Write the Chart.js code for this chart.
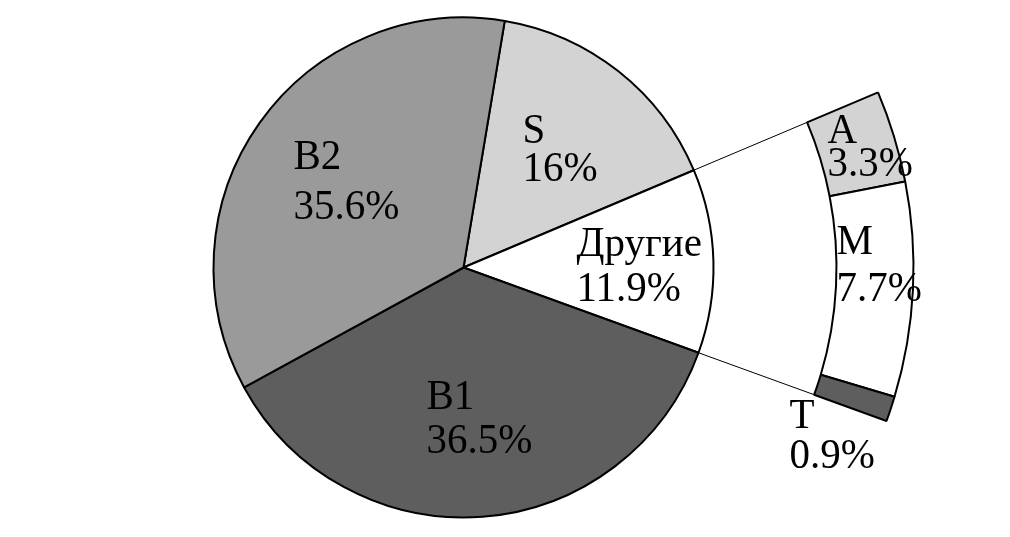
<!DOCTYPE html>
<html>
<head>
<meta charset="utf-8">
<script src="https://cdn.jsdelivr.net/npm/chart.js@4"></script>
<style>
  body { margin: 0; background: #fff; }
  #wrap { width: 1010px; height: 537px; }
</style>
</head>
<body>
<div id="wrap"><canvas id="pieChart"></canvas></div>
<script>
// main pie
const mainLabels = ["S", "Другие", "B1", "B2"];
const mainValues = [16, 11.9, 36.5, 35.6];
const mainColors = ["#d3d3d3", "#ffffff", "#5e5e5e", "#9a9a9a"];

// breakdown of "Другие"
const otherLabels = ["A", "M", "T"];
const otherValues = [3.3, 7.7, 0.9];
const otherColors = ["#d3d3d3", "#ffffff", "#5e5e5e"];

const startAngle = 9.5; // degrees, clockwise from top
const total = mainValues.reduce((a, b) => a + b, 0);
const otherIdx = mainLabels.indexOf("Другие");
const beforeOther = mainValues.slice(0, otherIdx).reduce((a, b) => a + b, 0);

// text placement from the pie centre: dx, dy (first baseline), line gap
const labelPos = {
  "B2": [-170, -99, 50],
  "S": [59, -125, 38],
  "Другие": [113, -12, 45],
  "B1": [-37, 141, 44],
  "A": [364, -125, 33],
  "M": [373, -14, 47],
  "T": [326, 160, 40],
};

const calloutPlugin = {
  id: "callout",
  afterDatasetsDraw(chart) {
    const ctx = chart.ctx;
    const pie = chart.getDatasetMeta(2).data[otherIdx];
    const ring = chart.getDatasetMeta(0).data[0];
    const r0 = pie.outerRadius, r1 = ring.innerRadius;

    // connector lines from the "Другие" slice to the ring
    ctx.save();
    ctx.strokeStyle = "#000";
    ctx.lineWidth = 1;
    [pie.startAngle, pie.endAngle].forEach((a) => {
      ctx.beginPath();
      ctx.moveTo(pie.x + r0 * Math.cos(a), pie.y + r0 * Math.sin(a));
      ctx.lineTo(pie.x + r1 * Math.cos(a), pie.y + r1 * Math.sin(a));
      ctx.stroke();
    });

    // slice labels
    ctx.font = "41px 'Liberation Serif', 'Times New Roman', serif";
    ctx.fillStyle = "#000";
    ctx.textAlign = "left";
    ctx.textBaseline = "alphabetic";
    const put = (txt, x, y) => {
      ctx.save();
      ctx.translate(x, y);
      ctx.scale(1, 1.04);
      ctx.fillText(txt, 0, 0);
      ctx.restore();
    };
    const draw = (labels, values) => {
      labels.forEach((l, i) => {
        const p = labelPos[l];
        put(l, pie.x + p[0], pie.y + p[1]);
        put(values[i] + "%", pie.x + p[0], pie.y + p[1] + p[2]);
      });
    };
    draw(mainLabels, mainValues);
    draw(otherLabels, otherValues);
    ctx.restore();
  },
};

new Chart(document.getElementById("pieChart"), {
  type: "pie",
  data: {
    labels: mainLabels,
    datasets: [
      {
        // outer ring: breakdown of "Другие"
        label: "Другие",
        data: otherValues,
        backgroundColor: otherColors,
        borderColor: "#000",
        borderWidth: 2,
        rotation: startAngle + (beforeOther / total) * 360,
        circumference: (mainValues[otherIdx] / total) * 360,
        weight: 77,
      },
      {
        // empty gap between pie and ring
        data: [1],
        backgroundColor: "rgba(0,0,0,0)",
        borderWidth: 0,
        weight: 123,
      },
      {
        label: "Main",
        data: mainValues,
        backgroundColor: mainColors,
        borderColor: "#000",
        borderWidth: 2,
        weight: 250,
      },
    ],
  },
  options: {
    responsive: true,
    maintainAspectRatio: false,
    animation: false,
    events: [],
    radius: 450,
    cutout: 0,
    rotation: startAngle,
    layout: { padding: { left: 0, right: 83, top: 0, bottom: 2 } },
    plugins: {
      legend: { display: false },
      tooltip: { enabled: false },
    },
  },
  plugins: [calloutPlugin],
});
</script>
</body>
</html>
